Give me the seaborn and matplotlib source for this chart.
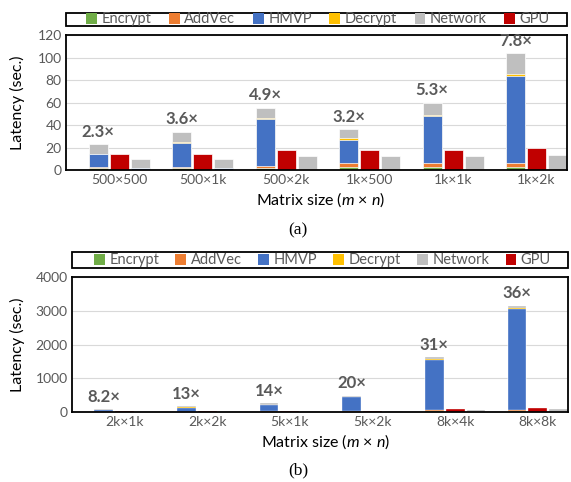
import numpy as np
import pandas as pd
import matplotlib
matplotlib.use("Agg")
import matplotlib.pyplot as plt
import seaborn as sns
from matplotlib.patches import Patch, Rectangle

# ---------------- data ----------------
components = ["Encrypt", "AddVec", "HMVP", "Decrypt", "Network"]

# (a) small matrices
sizes_a = ["500×500", "500×1k", "500×2k", "1k×500", "1k×1k", "1k×2k"]
cpu_encrypt_a = [1.5, 1.5, 1.5, 3.0, 3.0, 2.9]
cpu_addvec_a = [1.0, 1.2, 1.9, 3.0, 3.0, 3.3]
cpu_hmvp_a = [11.5, 21.5, 41.8, 20.8, 42.0, 77.8]
cpu_decrypt_a = [0.5, 0.5, 1.3, 1.4, 1.2, 1.5]
cpu_network_a = [8.3, 9.5, 9.1, 8.1, 10.8, 18.5]
gpu_a = [14.5, 14.5, 17.6, 17.6, 17.6, 19.8]
ours_encrypt_a = [0.2, 0.2, 0.2, 0.2, 0.2, 0.2]
ours_addvec_a = [0.3, 0.3, 0.4, 0.4, 0.4, 0.6]
ours_hmvp_a = [1.0, 1.0, 0.8, 0.8, 0.8, 0.2]
ours_decrypt_a = [0.0, 0.0, 0.0, 0.0, 0.0, 0.0]
ours_network_a = [8.5, 8.3, 10.9, 10.9, 10.9, 12.3]
speedup_a = ["2.3×", "3.6×", "4.9×", "3.2×", "5.3×", "7.8×"]

# (b) large matrices
sizes_b = ["2k×1k", "2k×2k", "5k×1k", "5k×2k", "8k×4k", "8k×8k"]
cpu_encrypt_b = [6, 6, 15, 15, 24, 24]
cpu_addvec_b = [7, 7, 17, 17, 27, 27]
cpu_hmvp_b = [50, 120, 180, 400, 1490, 3000]
cpu_decrypt_b = [3, 5, 5, 8, 15, 20]
cpu_network_b = [30, 45, 55, 45, 70, 80]
gpu_b = [20, 25, 28, 35, 90, 118]
ours_encrypt_b = [0.5, 0.5, 1, 1, 2, 2]
ours_addvec_b = [0.5, 0.5, 1, 1, 2, 3]
ours_hmvp_b = [2, 2, 3, 4, 6, 10]
ours_decrypt_b = [0, 0, 0, 0, 0, 0]
ours_network_b = [9, 11, 14, 18, 42, 80]
speedup_b = ["8.2×", "13×", "14×", "20×", "31×", "36×"]

# ---------------- style ----------------
colors = {
    "Encrypt": "#70AD47",
    "AddVec": "#ED7D31",
    "HMVP": "#4472C4",
    "Decrypt": "#FFC000",
    "Network": "#BFBFBF",
    "GPU": "#C00000",
}
text_gray = "#595959"

sns.set_theme(style="white")
plt.rcParams["font.family"] = ["Lato", "DejaVu Sans"]
plt.rcParams["mathtext.fontset"] = "custom"
plt.rcParams["mathtext.rm"] = "Lato"
plt.rcParams["mathtext.it"] = "Lato:italic"

fig = plt.figure(figsize=(5.71, 4.82), dpi=100)
ax_a = fig.add_axes([0.1156, 0.647, 0.8774, 0.2804])
ax_b = fig.add_axes([0.1261, 0.1452, 0.8686, 0.2801])

systems = ["CPU", "GPU", "Ours"]


def draw_panel(ax, sizes, cpu_parts, gpu, ours_parts, speedups, ymax, ystep,
               ylabel_x, xlabel_x, edge_lw, box_y, entries_x):
    n = len(sizes)
    cpu_cum = np.cumsum(np.array(cpu_parts, dtype=float), axis=0)
    ours_cum = np.cumsum(np.array(ours_parts, dtype=float), axis=0)
    # draw cumulative layers from the top component down so each
    # segment of the stack stays visible
    for k in range(len(components) - 1, -1, -1):
        gpu_vals = list(gpu) if k == len(components) - 1 else [np.nan] * n
        df = pd.DataFrame({
            "size": sizes * 3,
            "system": ["CPU"] * n + ["GPU"] * n + ["Ours"] * n,
            "latency": list(cpu_cum[k]) + gpu_vals + list(ours_cum[k]),
        })
        comp_color = colors[components[k]]
        sns.barplot(
            data=df, x="size", y="latency", hue="system",
            order=sizes, hue_order=systems,
            palette={"CPU": comp_color, "GPU": colors["GPU"], "Ours": comp_color},
            width=0.755, gap=0.095, errorbar=None, legend=False,
            edgecolor="white", linewidth=edge_lw, saturation=1, ax=ax,
        )

    # speedup labels over the CPU stacks
    slot = 0.755 / 3
    for i, lab in enumerate(speedups):
        ax.annotate(lab, (i - slot, cpu_cum[-1][i]), xytext=(0, 3),
                    textcoords="offset points", ha="center", va="bottom",
                    fontsize=12, fontweight="bold", color=text_gray)

    ax.set_xlim(-0.635, n - 1 + 0.365)
    ax.set_ylim(0, ymax)
    ax.set_yticks(np.arange(0, ymax + 1, ystep))
    ax.yaxis.grid(True, color="#D9D9D9", linewidth=0.8)
    ax.set_axisbelow(True)
    ax.tick_params(axis="both", length=0, colors=text_gray)
    ax.tick_params(axis="x", labelsize=10, pad=3)
    ax.tick_params(axis="y", labelsize=10, pad=3)
    for sp in ax.spines.values():
        sp.set_visible(True)
        sp.set_color("black")
        sp.set_linewidth(1.3)

    ax.set_ylabel("Latency (sec.)", fontsize=11.5, color="black")
    ax.yaxis.set_label_coords(ylabel_x, 0.5)
    ax.set_xlabel(r"Matrix size ($\it{m}$ × $\it{n}$)", fontsize=11.5, color="black")
    ax.xaxis.set_label_coords(xlabel_x, -0.15)

    # legend box spanning the full axes width, entries spread inside it
    y0, y1 = box_y
    ax.add_patch(Rectangle((0, y0), 1, y1 - y0, transform=ax.transAxes,
                           facecolor="white", edgecolor="black", linewidth=1.3,
                           clip_on=False, zorder=5))
    handles = [Patch(facecolor=colors[c], edgecolor="none") for c in components + ["GPU"]]
    x0, x1 = entries_x
    leg = ax.legend(handles, components + ["GPU"], ncol=6, loc="center",
                    bbox_to_anchor=(x0, y0, x1 - x0, y1 - y0), mode="expand",
                    frameon=False, fontsize=10.5,
                    handlelength=0.75, handleheight=0.75, handletextpad=0.3,
                    borderpad=0, borderaxespad=0, columnspacing=1.0,
                    labelcolor=text_gray)
    leg.set_zorder(6)


draw_panel(ax_a, sizes_a,
           [cpu_encrypt_a, cpu_addvec_a, cpu_hmvp_a, cpu_decrypt_a, cpu_network_a],
           gpu_a,
           [ours_encrypt_a, ours_addvec_a, ours_hmvp_a, ours_decrypt_a, ours_network_a],
           speedup_a, 120, 20, -0.082, 0.509, 0.5,
           (1.067, 1.165), (0.04, 0.966))
draw_panel(ax_b, sizes_b,
           [cpu_encrypt_b, cpu_addvec_b, cpu_hmvp_b, cpu_decrypt_b, cpu_network_b],
           gpu_b,
           [ours_encrypt_b, ours_addvec_b, ours_hmvp_b, ours_decrypt_b, ours_network_b],
           speedup_b, 4000, 1000, -0.095, 0.511, 0.25,
           (1.064, 1.183), (0.044, 0.966))

fig.text(298 / 571, 1 - 230 / 482, "(a)", ha="center", va="center",
         fontsize=12.5, family="Liberation Serif", color="black")
fig.text(298 / 571, 1 - 470 / 482, "(b)", ha="center", va="center",
         fontsize=12.5, family="Liberation Serif", color="black")

fig.savefig("out.png", dpi=100)
